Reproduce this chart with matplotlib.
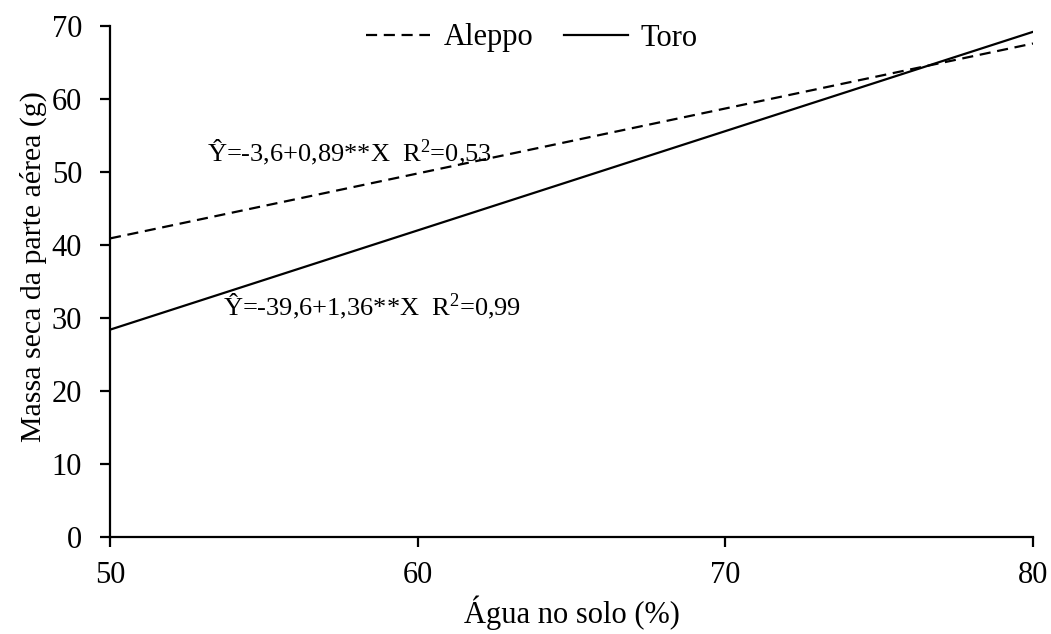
import matplotlib
matplotlib.use("Agg")
import matplotlib.pyplot as plt
import numpy as np

plt.rcParams['font.family'] = ['Liberation Serif', 'DejaVu Serif']
plt.rcParams['mathtext.fontset'] = 'custom'
plt.rcParams['mathtext.rm'] = 'Liberation Serif'
plt.rcParams['mathtext.it'] = 'Liberation Serif:italic'

x_range = [50, 80]
aleppo_y = [40.9, 67.6]
toro_y = [28.4, 69.2]
series_names = ["Aleppo", "Toro"]
eq_aleppo = "Ŷ=-3,6+0,89**X  R$^{2}$=0,53"
eq_toro = "Ŷ=-39,6+1,36**X  R$^{2}$=0,99"
xticks = [50, 60, 70, 80]
yticks = [0, 10, 20, 30, 40, 50, 60, 70]

fig = plt.figure(figsize=(10.51, 6.34), dpi=100)
ax = fig.add_axes([110/1051, 1 - 537/634, (1033-110)/1051, (537-26)/634])

ax.plot(x_range, aleppo_y, color='black', lw=1.6, dashes=(5, 3), label=series_names[0])
ax.plot(x_range, toro_y, color='black', lw=1.6, label=series_names[1])

ax.set_xlim(50, 80)
ax.set_ylim(0, 70)
ax.set_xticks(xticks)
ax.set_yticks(yticks)
for s in ['top', 'right']:
    ax.spines[s].set_visible(False)
for s in ['left', 'bottom']:
    ax.spines[s].set_linewidth(1.6)
ax.tick_params(axis='y', direction='out', length=7, width=1.6, labelsize=22, pad=13)
ax.tick_params(axis='x', direction='out', length=7, width=1.6, labelsize=22, pad=10)
ax.set_xlabel("Água no solo (%)", fontsize=22, labelpad=4)
ax.set_ylabel("Massa seca da parte aérea (g)", fontsize=21.5)
ax.yaxis.set_label_coords(-0.068, 0.53)

ax.text(53.15, 51.5, eq_aleppo, fontsize=19, va='baseline', ha='left')
ax.text(53.67, 30.4, eq_toro, fontsize=19, va='baseline', ha='left')

ax.legend(loc='center', bbox_to_anchor=(532/1051, 1 - 38/634),
          bbox_transform=fig.transFigure, ncol=2, frameon=False,
          fontsize=22, handlelength=2.1, columnspacing=1.0, handletextpad=0.42)

fig.savefig("out.png", dpi=100)
